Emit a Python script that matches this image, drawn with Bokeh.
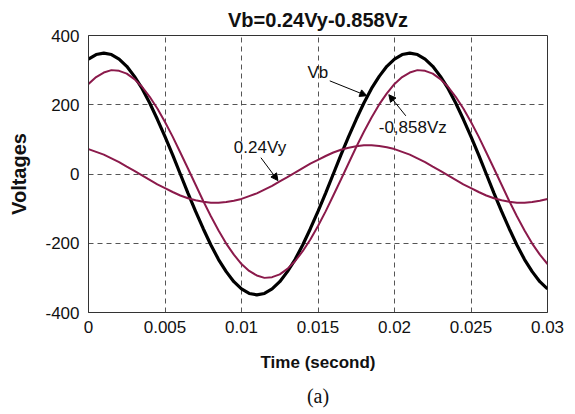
from bokeh.plotting import figure
from bokeh.models import Label, Arrow, NormalHead, FixedTicker, Range1d, Title
from bokeh.embed import file_html
from bokeh.resources import INLINE

time_s = [0, 0.0005, 0.001, 0.0015, 0.002, 0.0025, 0.003, 0.0035, 0.004, 0.0045,
          0.005, 0.0055, 0.006, 0.0065, 0.007, 0.0075, 0.008, 0.0085, 0.009, 0.0095,
          0.01, 0.0105, 0.011, 0.0115, 0.012, 0.0125, 0.013, 0.0135, 0.014, 0.0145,
          0.015, 0.0155, 0.016, 0.0165, 0.017, 0.0175, 0.018, 0.0185, 0.019, 0.0195,
          0.02, 0.0205, 0.021, 0.0215, 0.022, 0.0225, 0.023, 0.0235, 0.024, 0.0245,
          0.025, 0.0255, 0.026, 0.0265, 0.027, 0.0275, 0.028, 0.0285, 0.029, 0.0295,
          0.03]

vb = [332, 345, 349, 345, 332, 311, 282, 247, 205, 158,
      108, 55, 0, -55, -108, -158, -205, -247, -282, -311,
      -332, -345, -349, -345, -332, -311, -282, -247, -205, -158,
      -108, -55, 0, 55, 108, 158, 205, 247, 282, 311,
      332, 345, 349, 345, 332, 311, 282, 247, 205, 158,
      108, 55, 0, -55, -108, -158, -205, -247, -282, -311,
      -332]

neg_0858vz = [260, 280, 293, 300, 298, 290, 274, 252, 223, 189,
              150, 108, 62, 16, -31, -78, -122, -163, -201, -233,
              -260, -280, -293, -300, -298, -290, -274, -252, -223, -189,
              -150, -108, -62, -16, 31, 78, 122, 163, 201, 233,
              260, 280, 293, 300, 298, 290, 274, 252, 223, 189,
              150, 108, 62, 16, -31, -78, -122, -163, -201, -233,
              -260]

vy_024 = [72, 64, 56, 45, 34, 21, 9, -4, -17, -30,
          -41, -52, -62, -70, -76, -80, -83, -83, -81, -77,
          -72, -64, -56, -45, -34, -21, -9, 4, 17, 30,
          41, 52, 62, 70, 76, 80, 83, 83, 81, 77,
          72, 64, 56, 45, 34, 21, 9, -4, -17, -30,
          -41, -52, -62, -70, -76, -80, -83, -83, -81, -77,
          -72]

x_ticks = [0, 0.005, 0.01, 0.015, 0.02, 0.025, 0.03]
x_tick_labels = ["0", "0.005", "0.01", "0.015", "0.02", "0.025", "0.03"]
y_ticks = [-400, -200, 0, 200, 400]
y_tick_labels = ["-400", "-200", "0", "200", "400"]

FONT = "Liberation Sans"
PURPLE = "#8b1a4b"

p = figure(frame_width=459, frame_height=277, output_backend="svg", toolbar_location=None,
           x_range=Range1d(0, 0.03), y_range=Range1d(-400, 400),
           min_border_left=88, min_border_right=20, min_border_top=35,
           min_border_bottom=95, title="Vb=0.24Vy-0.858Vz")

p.title.text_font = FONT
p.title.text_font_size = "20px"
p.title.text_font_style = "bold"
p.title.align = "center"
p.title.vertical_align = "top"
p.title.text_color = "#111111"
p.title.standoff = 5

p.background_fill_color = "white"
p.border_fill_color = "white"
p.outline_line_color = "#333333"
p.outline_line_width = 1

for ax in (p.xaxis[0], p.yaxis[0]):
    ax.axis_line_color = "#333333"
    ax.major_tick_in = 0
    ax.major_tick_out = 0
    ax.minor_tick_in = 0
    ax.minor_tick_out = 0
    ax.major_label_text_font = FONT
    ax.major_label_text_font_size = "17px"
    ax.major_label_text_color = "#111111"
    ax.axis_label_text_font = FONT
    ax.axis_label_text_font_style = "bold"
    ax.axis_label_text_color = "#111111"

p.xaxis.axis_label_text_font_size = "17px"
p.yaxis.axis_label_text_font_size = "20px"
p.xaxis.ticker = FixedTicker(ticks=x_ticks)
p.xaxis.major_label_overrides = {t: s for t, s in zip(x_ticks, x_tick_labels)}
p.yaxis.ticker = FixedTicker(ticks=y_ticks)
p.yaxis.major_label_overrides = {t: s for t, s in zip(y_ticks, y_tick_labels)}
p.xaxis.major_label_standoff = 8
p.yaxis.major_label_standoff = 9
p.xaxis.axis_label = "Time (second)"
p.yaxis.axis_label = "Voltages"
p.xaxis.axis_label_standoff = 17
p.yaxis.axis_label_standoff = 12

for g in (p.xgrid[0], p.ygrid[0]):
    g.grid_line_color = "#555555"
    g.grid_line_dash = "5 4"
    g.grid_line_width = 1

p.line(time_s, vb, line_color="black", line_width=3.2)
p.line(time_s, neg_0858vz, line_color=PURPLE, line_width=2)
p.line(time_s, vy_024, line_color=PURPLE, line_width=2)

# annotations
p.add_layout(Label(x=0.01431, y=292, text="Vb", text_font=FONT, text_font_size="17px",
                   text_baseline="middle", text_align="left", text_color="#111111"))
p.add_layout(Label(x=0.01897, y=134, text="-0,858Vz", text_font=FONT, text_font_size="17px",
                   text_baseline="middle", text_align="left", text_color="#111111"))
p.add_layout(Label(x=0.0095, y=76, text="0.24Vy", text_font=FONT, text_font_size="17px",
                   text_baseline="middle", text_align="left", text_color="#111111"))

for xs, ys, xe, ye in [(0.01577, 269, 0.01819, 226),
                       (0.02074, 168, 0.01963, 229),
                       (0.01127, 47, 0.01238, -19)]:
    p.add_layout(Arrow(end=NormalHead(size=7, fill_color="black", line_color="black"),
                       x_start=xs, y_start=ys, x_end=xe, y_end=ye,
                       line_color="black", line_width=1))

caption = Title(text="(a)", align="center", text_font="Liberation Serif",
                text_font_size="20px", text_font_style="normal",
                text_color="#111111", standoff=16)
p.add_layout(caption, "below")

open("out.html", "w").write(file_html(p, INLINE))
